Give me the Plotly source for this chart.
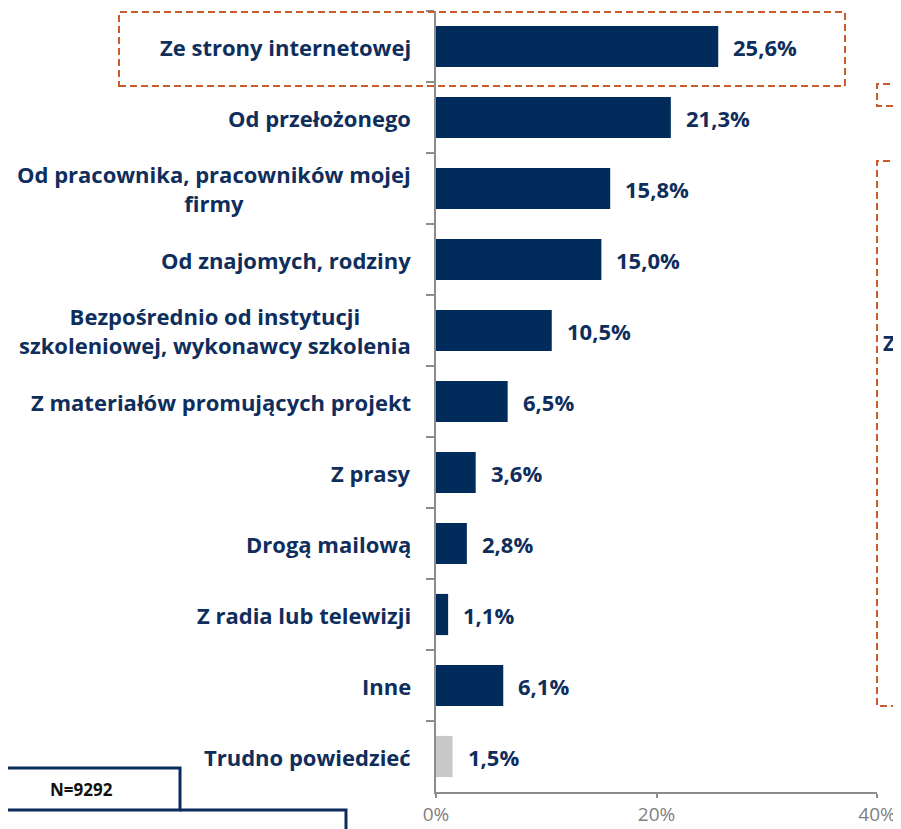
import plotly.graph_objects as go

# dane
kategorie = [
    "Ze strony internetowej",
    "Od przełożonego",
    "Od pracownika, pracowników mojej<br>firmy",
    "Od znajomych, rodziny",
    "Bezpośrednio od instytucji<br>szkoleniowej, wykonawcy szkolenia",
    "Z materiałów promujących projekt",
    "Z prasy",
    "Drogą mailową",
    "Z radia lub telewizji",
    "Inne",
    "Trudno powiedzieć",
]
wartosci = [25.6, 21.3, 15.8, 15.0, 10.5, 6.5, 3.6, 2.8, 1.1, 6.1, 1.5]
kolory = ["#002B5A"] * 10 + ["#C8C8C8"]
tick_x = [0, 20, 40]
tick_txt = ["0%", "20%", "40%"]

NAVY = "#0F2E5C"
ORANGE = "#CB5B2C"
FONT = "Open Sans"

# strona ma domyślny margines 8px, więc figura jest o 8px mniejsza
OFF = 8
W, H = 901 - OFF, 829 - OFF
L, T = 436 - OFF, 11 - OFF
R = W - (877 - OFF)
B = H - (792 - OFF)


def px(x):
    # piksel strony -> współrzędna paper
    return (x - OFF - L) / (W - L - R)


def py(y):
    return (H - B - (y - OFF)) / (H - T - B)


fig = go.Figure()
fig.add_trace(go.Bar(
    y=kategorie,
    x=wartosci,
    orientation="h",
    marker=dict(color=kolory, line=dict(width=0)),
    width=0.58,
    hoverinfo="skip",
))

ann = []
for k, v in zip(kategorie, wartosci):
    # etykieta kategorii
    ann.append(dict(
        x=px(413), xref="paper", y=k, yref="y",
        text="<b>" + k + "</b>", showarrow=False,
        xanchor="right", yanchor="middle", align="center",
        font=dict(family=FONT, size=22, color=NAVY),
    ))
    # etykieta wartości
    ann.append(dict(
        x=v, xref="x", y=k, yref="y",
        text="<b>" + f"{v:.1f}".replace(".", ",") + "%</b>", showarrow=False,
        xanchor="left", yanchor="middle", xshift=13,
        font=dict(family=FONT, size=22, color=NAVY),
    ))

ann.append(dict(
    x=px(81), xref="paper", y=py(789), yref="paper",
    xanchor="center", yanchor="middle",
    text="<b>N=9292</b>", showarrow=False,
    font=dict(family=FONT, size=17, color="#111111"),
))
ann.append(dict(
    x=px(889), xref="paper", y=py(343), yref="paper",
    xanchor="center", yanchor="middle",
    text="<b>Z</b>", showarrow=False,
    font=dict(family=FONT, size=21, color=NAVY),
))


def path(pts):
    return "M " + " L ".join(f"{px(x)},{py(y)}" for x, y in pts)


dash = dict(color=ORANGE, width=2, dash="7px,4px")
box = dict(color="#0A2B5C", width=3)
right_edge = 901
shapes = [
    dict(type="rect", xref="paper", yref="paper",
         x0=px(119), x1=px(845), y0=py(86), y1=py(12), line=dash),
    dict(type="path", xref="paper", yref="paper", line=dash,
         path=path([(right_edge, 84), (877, 84), (877, 106), (right_edge, 106)])),
    dict(type="path", xref="paper", yref="paper", line=dash,
         path=path([(right_edge, 161), (877, 161), (877, 706), (right_edge, 706)])),
    dict(type="path", xref="paper", yref="paper", line=box,
         path=path([(OFF, 768), (180, 768), (180, 810), (OFF, 810)])),
    dict(type="path", xref="paper", yref="paper", line=box,
         path=path([(180, 810), (346, 810), (346, 829)])),
]

fig.update_layout(
    width=W, height=H,
    margin=dict(l=L, r=R, t=T, b=B, autoexpand=False),
    plot_bgcolor="white", paper_bgcolor="white",
    showlegend=False,
    annotations=ann,
    shapes=shapes,
)
fig.update_xaxes(
    range=[0, 40],
    tickvals=tick_x, ticktext=tick_txt,
    tickfont=dict(family=FONT, size=19, color="#808080"),
    showgrid=False, zeroline=False,
    showline=True, linecolor="#8C8C8C", linewidth=2,
    ticks="outside", ticklen=4, tickcolor="#8C8C8C", tickwidth=2,
    ticklabelstandoff=0, automargin=False,
)
fig.update_yaxes(
    autorange="reversed",
    showticklabels=False,
    showgrid=False, zeroline=False,
    showline=True, linecolor="#8C8C8C", linewidth=2,
    ticks="outside", ticklen=8, tickcolor="#8C8C8C", tickwidth=2,
    tickson="boundaries", automargin=False,
)

fig.write_html("out.html", config={"displayModeBar": False})
